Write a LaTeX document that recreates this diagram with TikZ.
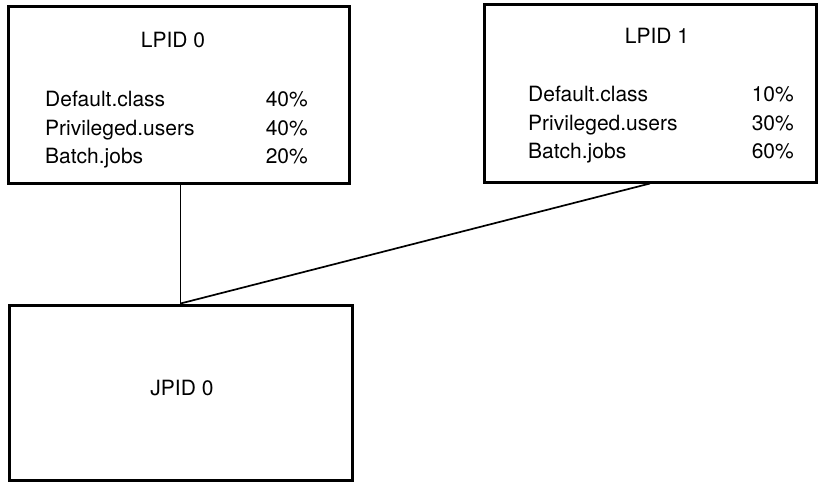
\documentclass[tikz,border=0pt]{standalone}
\usepackage{fontspec}
\setmainfont{TeX Gyre Heros}
\usetikzlibrary{positioning, calc}

\begin{document}
\begin{tikzpicture}[
        x=1pt, y=-1pt,
        font=\fontsize{21}{25}\selectfont,
        % box styles
        panel/.style={rectangle, draw=black, line width=3pt, inner sep=0pt},
        heading/.style={anchor=base, inner sep=0pt},
        entry/.style={anchor=base west, inner sep=0pt},
        pct/.style={anchor=base east, inner sep=0pt},
        link/.style={line width=1.7pt}
    ]
    \useasboundingbox (0,0) rectangle (820,483);

    % --- 1. BOXES ---
    \node[panel, minimum width=341pt, minimum height=177pt] (lpid0) at (178.5,94.5) {};
    \node[panel, minimum width=332pt, minimum height=178pt] (lpid1) at (650,93) {};
    \node[panel, minimum width=343pt, minimum height=175pt] (jpid0) at (180.5,392.5) {};

    % LPID 0 contents
    \node[heading] (t0) at (173,47) {LPID 0};
    \node[entry] (d0) at (45,106) {Default.class};
    \node[entry] (u0) at (45,135) {Privileged.users};
    \node[entry] (b0) at (45,163) {Batch.jobs};
    \node[pct] (dp0) at (308,106) {40\%};
    \node[pct] (up0) at (308,135) {40\%};
    \node[pct] (bp0) at (308,163) {20\%};

    % LPID 1 contents
    \node[heading] (t1) at (657,43) {LPID 1};
    \node[entry] (d1) at (528,101) {Default.class};
    \node[entry] (u1) at (528,130) {Privileged.users};
    \node[entry] (b1) at (528,158) {Batch.jobs};
    \node[pct] (dp1) at (794,101) {10\%};
    \node[pct] (up1) at (794,130) {30\%};
    \node[pct] (bp1) at (794,158) {60\%};

    % JPID 0 label
    \node[heading] (tj) at (182,395) {JPID 0};

    % --- 2. CONNECTORS ---
    \coordinate (join) at (jpid0.north);
    \draw[link] (lpid0.south -| join) -- (join);
    \draw[link] (lpid1.south) -- (join);

\end{tikzpicture}
\end{document}
